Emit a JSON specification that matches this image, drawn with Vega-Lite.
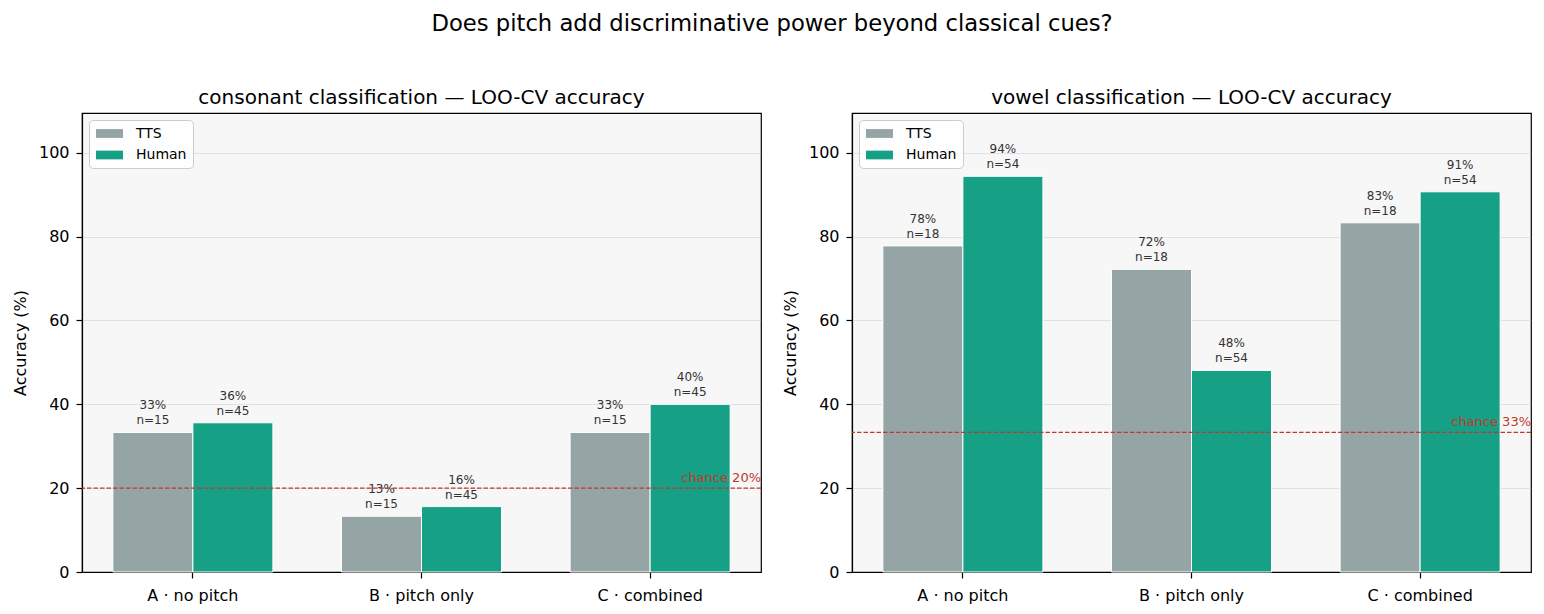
{
  "$schema": "https://vega.github.io/schema/vega-lite/v6.json",
  "padding": {"left": 11, "top": 12, "right": 12, "bottom": 8},
  "title": {
    "text": "Does pitch add discriminative power beyond classical cues?",
    "fontSize": 22.7,
    "fontWeight": "normal",
    "anchor": "middle",
    "offset": 52
  },
  "datasets": {
    "acc": [
      {"task": "consonant", "cue": "A · no pitch", "voice": "TTS", "acc": 33.3, "n": 15},
      {"task": "consonant", "cue": "A · no pitch", "voice": "Human", "acc": 35.6, "n": 45},
      {"task": "consonant", "cue": "B · pitch only", "voice": "TTS", "acc": 13.3, "n": 15},
      {"task": "consonant", "cue": "B · pitch only", "voice": "Human", "acc": 15.6, "n": 45},
      {"task": "consonant", "cue": "C · combined", "voice": "TTS", "acc": 33.3, "n": 15},
      {"task": "consonant", "cue": "C · combined", "voice": "Human", "acc": 40.0, "n": 45},
      {"task": "vowel", "cue": "A · no pitch", "voice": "TTS", "acc": 77.8, "n": 18},
      {"task": "vowel", "cue": "A · no pitch", "voice": "Human", "acc": 94.4, "n": 54},
      {"task": "vowel", "cue": "B · pitch only", "voice": "TTS", "acc": 72.2, "n": 18},
      {"task": "vowel", "cue": "B · pitch only", "voice": "Human", "acc": 48.1, "n": 54},
      {"task": "vowel", "cue": "C · combined", "voice": "TTS", "acc": 83.3, "n": 18},
      {"task": "vowel", "cue": "C · combined", "voice": "Human", "acc": 90.7, "n": 54}
    ],
    "chance": [
      {"task": "consonant", "chance": 20.0},
      {"task": "vowel", "chance": 33.3}
    ]
  },
  "hconcat": [
    {
      "width": 679,
      "height": 459,
      "title": "consonant classification — LOO-CV accuracy",
      "layer": [
        {
          "data": {"name": "acc"},
          "transform": [{"filter": "datum.task === 'consonant'"}],
          "mark": {"type": "bar", "stroke": "white", "strokeWidth": 1},
          "encoding": {
            "x": {"field": "cue", "type": "nominal", "scale": {"domain": ["A · no pitch", "B · pitch only", "C · combined"], "paddingInner": 0.3, "paddingOuter": 0.135}},
            "xOffset": {"field": "voice", "type": "nominal", "scale": {"domain": ["TTS", "Human"], "paddingInner": 0, "paddingOuter": 0}},
            "y": {"field": "acc", "type": "quantitative", "title": "Accuracy (%)", "scale": {"domain": [0, 109.5], "nice": false}, "axis": {"values": [0, 20, 40, 60, 80, 100]}},
            "color": {"field": "voice", "type": "nominal", "scale": {"domain": ["TTS", "Human"], "range": ["#95a5a6", "#16a085"]}, "legend": {"title": null}}
          }
        },
        {
          "data": {"name": "acc"},
          "transform": [
            {"filter": "datum.task === 'consonant'"},
            {"calculate": "[format(datum.acc, '.0f') + '%', 'n=' + datum.n]", "as": "label"}
          ],
          "mark": {"type": "text", "baseline": "bottom", "dy": -20, "fontSize": 12, "lineHeight": 15, "fill": "#333333"},
          "encoding": {
            "x": {"field": "cue", "type": "nominal"},
            "xOffset": {"field": "voice", "type": "nominal"},
            "y": {"field": "acc", "type": "quantitative", "title": "Accuracy (%)"},
            "text": {"field": "label"}
          }
        },
        {
          "data": {"name": "chance"},
          "transform": [{"filter": "datum.task === 'consonant'"}],
          "mark": {"type": "rule", "stroke": "#c0392b", "strokeWidth": 1.3, "strokeDash": [4.5, 2]},
          "encoding": {"y": {"field": "chance", "type": "quantitative", "title": "Accuracy (%)"}}
        },
        {
          "data": {"name": "chance"},
          "transform": [
            {"filter": "datum.task === 'consonant'"},
            {"calculate": "'chance ' + format(datum.chance, '.0f') + '%'", "as": "label"}
          ],
          "mark": {"type": "text", "x": "width", "align": "right", "baseline": "alphabetic", "dy": -6, "fontSize": 13, "fill": "#c0392b"},
          "encoding": {
            "y": {"field": "chance", "type": "quantitative", "title": "Accuracy (%)"},
            "text": {"field": "label"}
          }
        }
      ]
    },
    {
      "width": 679,
      "height": 459,
      "title": "vowel classification — LOO-CV accuracy",
      "layer": [
        {
          "data": {"name": "acc"},
          "transform": [{"filter": "datum.task === 'vowel'"}],
          "mark": {"type": "bar", "stroke": "white", "strokeWidth": 1},
          "encoding": {
            "x": {"field": "cue", "type": "nominal", "scale": {"domain": ["A · no pitch", "B · pitch only", "C · combined"], "paddingInner": 0.3, "paddingOuter": 0.135}},
            "xOffset": {"field": "voice", "type": "nominal", "scale": {"domain": ["TTS", "Human"], "paddingInner": 0, "paddingOuter": 0}},
            "y": {"field": "acc", "type": "quantitative", "title": "Accuracy (%)", "scale": {"domain": [0, 109.5], "nice": false}, "axis": {"values": [0, 20, 40, 60, 80, 100]}},
            "color": {"field": "voice", "type": "nominal", "scale": {"domain": ["TTS", "Human"], "range": ["#95a5a6", "#16a085"]}, "legend": {"title": null}}
          }
        },
        {
          "data": {"name": "acc"},
          "transform": [
            {"filter": "datum.task === 'vowel'"},
            {"calculate": "[format(datum.acc, '.0f') + '%', 'n=' + datum.n]", "as": "label"}
          ],
          "mark": {"type": "text", "baseline": "bottom", "dy": -20, "fontSize": 12, "lineHeight": 15, "fill": "#333333"},
          "encoding": {
            "x": {"field": "cue", "type": "nominal"},
            "xOffset": {"field": "voice", "type": "nominal"},
            "y": {"field": "acc", "type": "quantitative", "title": "Accuracy (%)"},
            "text": {"field": "label"}
          }
        },
        {
          "data": {"name": "chance"},
          "transform": [{"filter": "datum.task === 'vowel'"}],
          "mark": {"type": "rule", "stroke": "#c0392b", "strokeWidth": 1.3, "strokeDash": [4.5, 2]},
          "encoding": {"y": {"field": "chance", "type": "quantitative", "title": "Accuracy (%)"}}
        },
        {
          "data": {"name": "chance"},
          "transform": [
            {"filter": "datum.task === 'vowel'"},
            {"calculate": "'chance ' + format(datum.chance, '.0f') + '%'", "as": "label"}
          ],
          "mark": {"type": "text", "x": "width", "align": "right", "baseline": "alphabetic", "dy": -6, "fontSize": 13, "fill": "#c0392b"},
          "encoding": {
            "y": {"field": "chance", "type": "quantitative", "title": "Accuracy (%)"},
            "text": {"field": "label"}
          }
        }
      ]
    }
  ],
  "resolve": {"scale": {"color": "independent", "y": "independent"}},
  "config": {
    "font": "DejaVu Sans",
    "concat": {"spacing": 18},
    "view": {"fill": "#f7f7f7", "stroke": "#000000", "strokeWidth": 1.2},
    "title": {"fontSize": 20, "fontWeight": "normal", "color": "#000000", "offset": 5},
    "axis": {
      "domainColor": "#000000",
      "domainWidth": 1.2,
      "tickColor": "#000000",
      "tickWidth": 1.2,
      "tickSize": 6,
      "labelColor": "#000000",
      "labelFontSize": 16,
      "labelPadding": 7,
      "titleColor": "#000000",
      "titleFontSize": 16,
      "titleFontWeight": "normal",
      "titlePadding": 10
    },
    "axisX": {"grid": false, "labelAngle": 0, "title": null, "labelPadding": 9},
    "axisY": {"grid": true, "gridColor": "#b0b0b0", "gridOpacity": 0.3, "gridWidth": 1, "zindex": 1},
    "legend": {
      "orient": "top-left",
      "offset": 7,
      "padding": 6,
      "fillColor": "rgba(255,255,255,0.8)",
      "strokeColor": "#cccccc",
      "cornerRadius": 4,
      "labelFontSize": 14,
      "labelColor": "#000000",
      "labelOffset": 26,
      "rowPadding": 6.5,
      "symbolType": "M-1,-0.7H3V0.7H-1Z",
      "symbolSize": 196,
      "symbolStrokeColor": "white",
      "symbolStrokeWidth": 1,
      "symbolOpacity": 1
    }
  }
}
